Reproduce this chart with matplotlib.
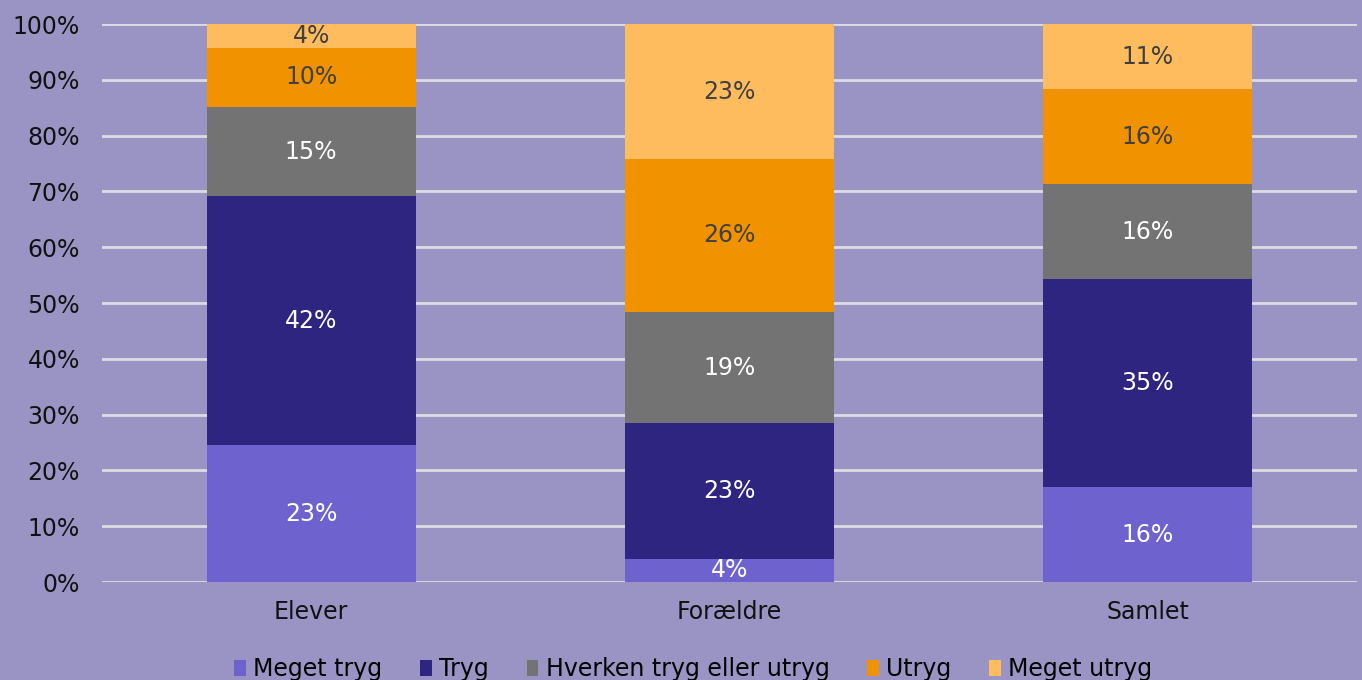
import matplotlib
matplotlib.use("Agg")
import matplotlib.pyplot as plt
from matplotlib.patches import Patch
import numpy as np

categories = ["Elever", "Forældre", "Samlet"]
series_names = ["Meget tryg", "Tryg", "Hverken tryg eller utryg", "Utryg", "Meget utryg"]
meget_tryg = [23, 4, 16]
tryg = [42, 23, 35]
hverken = [15, 19, 16]
utryg = [10, 26, 16]
meget_utryg = [4, 23, 11]

colors = ["#6E62CF", "#2E2580", "#737373", "#F19200", "#FFBC5F"]
label_colors = ["white", "white", "white", "#404040", "#404040"]
bg = "#9A94C4"

series = [meget_tryg, tryg, hverken, utryg, meget_utryg]
raw = np.array(series, dtype=float)
totals = raw.sum(axis=0)
pct = raw / totals * 100

fig = plt.figure(figsize=(13.62, 6.8), dpi=100, facecolor=bg)
ax = fig.add_axes([0.0749, 0.1441, 0.9214, 0.8206])
ax.set_facecolor(bg)

x = np.arange(len(categories))
bottom = np.zeros(len(categories))
for i, name in enumerate(series_names):
    ax.bar(x, pct[i], 0.5, bottom=bottom, color=colors[i], zorder=3, label=name)
    for j in range(len(categories)):
        yc = bottom[j] + pct[i][j] / 2
        ax.text(x[j], yc, f"{int(raw[i][j])}%", ha="center", va="center",
                color=label_colors[i], fontsize=17, zorder=4)
    bottom += pct[i]

ax.set_xlim(-0.5, 2.5)
ax.set_ylim(0, 100)
ax.set_yticks(np.arange(0, 101, 10))
ax.set_yticklabels([f"{v}%" for v in range(0, 101, 10)])
ax.set_xticks(x)
ax.set_xticklabels(categories)
ax.tick_params(axis="both", length=0, labelsize=17, colors="#111111")
ax.tick_params(axis="y", pad=16)
ax.tick_params(axis="x", pad=13)
ax.grid(axis="y", color="#DCDCE2", linewidth=2, zorder=0)
for s in ax.spines.values():
    s.set_visible(False)

handles = [Patch(facecolor=c, edgecolor="none") for c in colors]
fig.legend(handles, series_names, loc="center", bbox_to_anchor=(0.509, 0.016),
           ncol=5, frameon=False, fontsize=17, handlelength=0.5, handleheight=0.7,
           handletextpad=0.3, columnspacing=1.6)

fig.savefig("out.png", dpi=100, facecolor=bg)
